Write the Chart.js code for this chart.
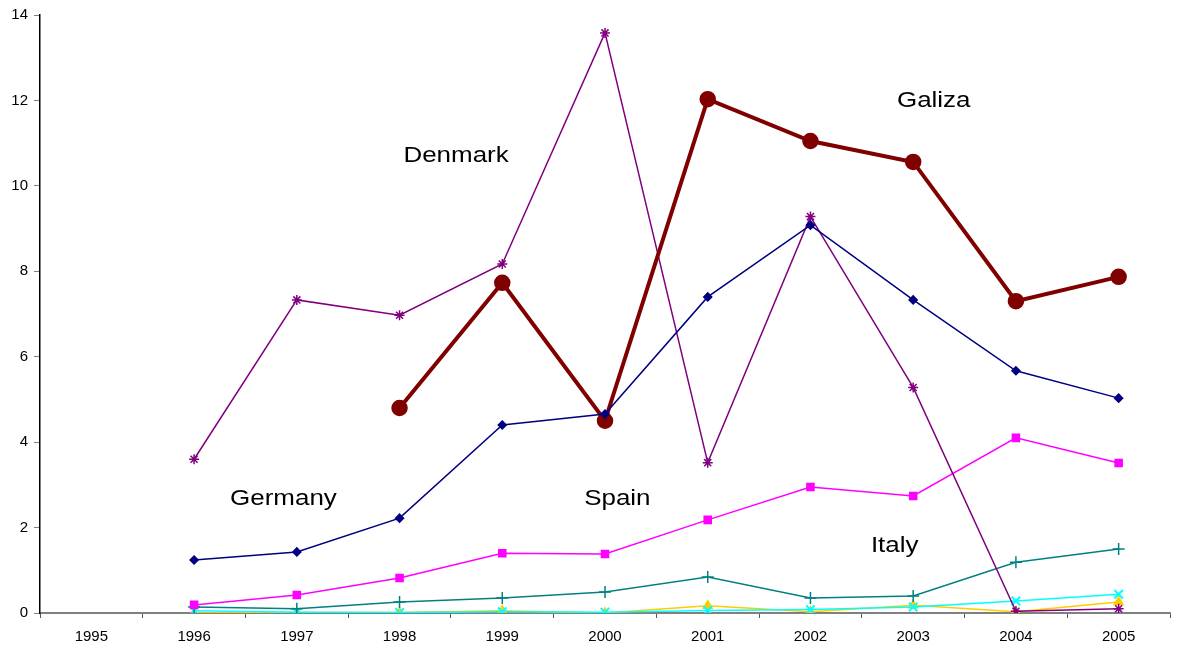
<!DOCTYPE html>
<html>
<head>
<meta charset="utf-8">
<script src="https://cdn.jsdelivr.net/npm/chart.js@4/dist/chart.umd.min.js"></script>
<style>
html,body{margin:0;padding:0;background:#fff;}
#wrap{width:1179px;height:651px;position:relative;}
</style>
</head>
<body>
<div id="wrap"><canvas id="c" width="1179" height="651"></canvas></div>
<script>
const years = ['1995','1996','1997','1998','1999','2000','2001','2002','2003','2004','2005'];
const galiza  = [null, null, null, 4.8, 7.73, 4.5, 12.03, 11.05, 10.56, 7.3, 7.87];
const germany = [null, 1.24, 1.43, 2.22, 4.4, 4.66, 7.4, 9.08, 7.33, 5.67, 5.03];
const denmark = [null, 3.6, 7.33, 6.97, 8.17, 13.58, 3.52, 9.28, 5.28, 0.04, 0.1];
const spain   = [null, 0.19, 0.42, 0.82, 1.4, 1.38, 2.18, 2.95, 2.74, 4.1, 3.51];
const italy   = [null, 0.14, 0.1, 0.26, 0.35, 0.49, 0.84, 0.35, 0.4, 1.19, 1.5];
const cyanSeries   = [null, 0.05, 0.02, 0.01, 0.03, 0.02, 0.06, 0.08, 0.14, 0.28, 0.44];
const yellowSeries = [null, 0.0, 0.01, 0.01, 0.05, 0.0, 0.17, 0.03, 0.18, 0.03, 0.26];
const yTicks = [0, 2, 4, 6, 8, 10, 12, 14];
const labels = [
  {text:'Denmark', x:3.55, y:10.7},
  {text:'Galiza',  x:8.2,  y:11.98},
  {text:'Germany', x:1.87, y:2.67},
  {text:'Spain',   x:5.12, y:2.67},
  {text:'Italy',   x:7.82, y:1.57}
];

const labelPlugin = {
  id:'labelPlugin',
  afterDatasetsDraw(chart){
    const {ctx, scales:{x,y}} = chart;
    labels.forEach(l=>{
      ctx.save();
      ctx.translate(x.getPixelForValue(l.x), y.getPixelForValue(l.y));
      ctx.scale(1.18, 1);
      ctx.font = '22px "Liberation Sans", Arial, sans-serif';
      ctx.fillStyle = '#000';
      ctx.textAlign = 'center';
      ctx.textBaseline = 'middle';
      ctx.fillText(l.text, 0, 0);
      ctx.restore();
    });
  }
};

function ds(label, data, color, style, radius, width, order, extra){
  return Object.assign({
    label, data, borderColor:color, backgroundColor:color,
    pointStyle:style, pointRadius:radius, pointHoverRadius:radius,
    pointBorderColor:color, pointBackgroundColor:color,
    borderWidth:width, pointBorderWidth:1.5, tension:0, spanGaps:false, order
  }, extra||{});
}

new Chart(document.getElementById('c'), {
  type:'line',
  data:{
    labels: years,
    datasets:[
      ds('Germany', germany, '#000080', 'rectRot', 4, 1.5, 1),
      ds('Galiza', galiza, '#800000', 'circle', 7.5, 4, 2),
      ds('Denmark', denmark, '#800080', 'star', 5, 1.5, 3),
      ds('Spain', spain, '#FF00FF', 'rect', 5, 1.5, 4),
      ds('Italy', italy, '#008080', 'cross', 6, 1.5, 5),
      ds('Other1', cyanSeries, '#00FFFF', 'crossRot', 6, 1.5, 6, {pointBorderWidth:2}),
      ds('Other2', yellowSeries, '#FFCC00', 'triangle', 5, 1.5, 7)
    ]
  },
  options:{
    responsive:false,
    animation:false,
    devicePixelRatio:1,
    layout:{padding:{top:15, right:4, left:0, bottom:0}},
    plugins:{legend:{display:false}, tooltip:{enabled:false}},
    scales:{
      x:{
        offset:true,
        grid:{display:true, drawOnChartArea:false, offset:true, tickLength:5, color:'#555', lineWidth:1},
        border:{display:true, color:'#808080', width:2},
        ticks:{color:'#000', font:{family:'"Liberation Sans", Arial, sans-serif', size:15}, padding:10, maxRotation:0},
        afterFit(s){ s.height = 38; }
      },
      y:{
        min:0, max:14,
        afterBuildTicks(s){ s.ticks = yTicks.map(v=>({value:v})); },
        grid:{display:true, drawOnChartArea:false, tickLength:6, color:'#808080'},
        border:{display:true, color:'#000', width:1.5},
        ticks:{color:'#000', font:{family:'"Liberation Sans", Arial, sans-serif', size:15}, padding:6},
        afterFit(s){ s.width = 40; }
      }
    }
  },
  plugins:[labelPlugin]
});
</script>
</body>
</html>
